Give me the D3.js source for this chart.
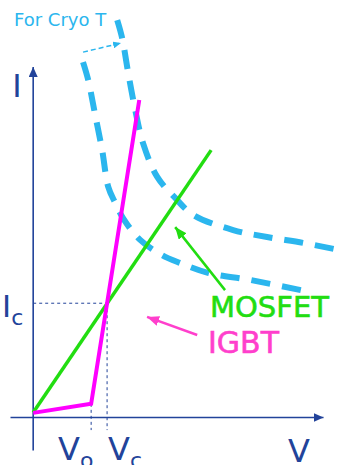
<!DOCTYPE html>
<html>
<head>
<meta charset="utf-8">
<script src="https://cdn.jsdelivr.net/npm/d3@7/dist/d3.min.js"></script>
<style>
  html, body { margin: 0; padding: 0; background: #fff; }
  svg { display: block; }
  text { font-family: "DejaVu Sans", Verdana, sans-serif; }
</style>
</head>
<body>
<svg id="chart" width="343" height="465"></svg>
<script>
// Axis extents (V horizontal, I vertical), in arbitrary units
const vExtent = [-0.8, 10];
const iExtent = [-1.15, 12];

// Operating point and IGBT knee voltage
const Vc = 2.55;
const Ic = 3.9;
const V0 = 2.0;

// MOSFET: linear (resistive) characteristic
const mosfetV = [0, 6.14];
const mosfetI = [0.15, 9.15];

// IGBT: small rise up to the knee, then steep
const igbtV = [0, 2.0, 3.66];
const igbtI = [0.14, 0.45, 10.87];

// Cryogenic limit curves (dashed)
const cryoOuterV = [2.90, 3.07, 3.28, 3.52, 3.79, 4.28, 4.90, 5.52, 6.90, 8.07, 9.31, 10.52];
const cryoOuterI = [13.61, 12.99, 11.79, 10.53, 9.39, 8.23, 7.51, 6.93, 6.41, 6.17, 5.97, 5.73];
const cryoInnerV = [1.72, 1.90, 2.14, 2.38, 2.59, 2.83, 3.10, 3.69, 4.45, 5.07, 6.03, 7.48, 9.38];
const cryoInnerI = [12.17, 11.55, 10.35, 9.15, 7.89, 7.34, 6.82, 6.07, 5.55, 5.28, 4.94, 4.70, 4.32];

// Annotation arrows: [fromV, fromI, toV, toI]
const shiftArrow = [1.72, 12.51, 3.03, 12.82];
const mosfetArrow = [6.62, 4.35, 4.90, 6.51];
const igbtArrow = [5.66, 2.81, 3.93, 3.43];

const W = 343, H = 465;
const navy = "#22439a";
const cyan = "#2bb6ee";
const green = "#22dd11";
const magenta = "#ff00ff";
const pink = "#ff3fcc";

const svg = d3.select("#chart");
const x = d3.scaleLinear().domain(vExtent).range([10, 323]);
const y = d3.scaleLinear().domain(iExtent).range([450.5, 67]);

const defs = svg.append("defs");
function marker(id, color, w, h) {
  defs.append("marker")
    .attr("id", id)
    .attr("viewBox", `0 0 ${w} ${h}`)
    .attr("refX", w).attr("refY", h / 2)
    .attr("markerWidth", w).attr("markerHeight", h)
    .attr("markerUnits", "userSpaceOnUse")
    .attr("orient", "auto")
    .append("path")
    .attr("d", `M0,0L${w},${h / 2}L0,${h}Z`)
    .attr("fill", color);
}
marker("arrNavy", navy, 10, 9);
marker("arrCyan", cyan, 8, 7);
marker("arrGreen", green, 12, 10);
marker("arrPink", pink, 12, 10);

// Axes through the origin, no ticks
const xAxis = svg.append("g")
  .attr("transform", `translate(0,${y(0)})`)
  .call(d3.axisBottom(x).tickValues([]).tickSizeOuter(0));
xAxis.select(".domain")
  .attr("stroke", navy).attr("stroke-width", 1.6)
  .attr("marker-end", "url(#arrNavy)");

const yAxis = svg.append("g")
  .attr("transform", `translate(${x(0)},0)`)
  .call(d3.axisLeft(y).tickValues([]).tickSizeOuter(0));
yAxis.select(".domain")
  .attr("stroke", navy).attr("stroke-width", 1.6)
  .attr("d", `M0,${y(iExtent[0])}V${y(iExtent[1])}`)
  .attr("marker-end", "url(#arrNavy)");

const line = d3.line().x(d => x(d[0])).y(d => y(d[1]));
const smooth = d3.line().x(d => x(d[0])).y(d => y(d[1])).curve(d3.curveCatmullRom.alpha(0.5));

// Guide lines to the operating point
const guides = [
  [[0, Ic], [Vc, Ic]],
  [[Vc, Ic], [Vc, -0.45]],
  [[V0, igbtI[1]], [V0, -0.45]]
];
svg.append("g").selectAll("path").data(guides).join("path")
  .attr("d", line)
  .attr("fill", "none")
  .attr("stroke", navy)
  .attr("stroke-width", 1)
  .attr("stroke-dasharray", "3,3");

// Cryogenic dashed curves
const cryo = [
  d3.zip(cryoOuterV, cryoOuterI),
  d3.zip(cryoInnerV, cryoInnerI)
];
svg.append("g").selectAll("path").data(cryo).join("path")
  .attr("d", smooth)
  .attr("fill", "none")
  .attr("stroke", cyan)
  .attr("stroke-width", 6)
  .attr("stroke-dasharray", "19,12");

// Device characteristics
svg.append("path")
  .attr("d", line(d3.zip(mosfetV, mosfetI)))
  .attr("fill", "none").attr("stroke", green).attr("stroke-width", 3.5);
svg.append("path")
  .attr("d", line(d3.zip(igbtV, igbtI)))
  .attr("fill", "none").attr("stroke", magenta).attr("stroke-width", 4)
  .attr("stroke-linejoin", "miter");

// Annotation arrows
function arrow(a, color, width, mk, dash) {
  const p = svg.append("line")
    .attr("x1", x(a[0])).attr("y1", y(a[1]))
    .attr("x2", x(a[2])).attr("y2", y(a[3]))
    .attr("stroke", color).attr("stroke-width", width)
    .attr("marker-end", `url(#${mk})`);
  if (dash) p.attr("stroke-dasharray", dash);
}
arrow(shiftArrow, cyan, 1.5, "arrCyan", "5,3");
arrow(mosfetArrow, green, 2.5, "arrGreen");
arrow(igbtArrow, pink, 2.5, "arrPink");

// Text
svg.append("text").attr("x", 14).attr("y", 26)
  .attr("fill", cyan).attr("font-size", 18).text("For Cryo T");

svg.append("text").attr("x", 17).attr("y", 97).attr("text-anchor", "middle")
  .attr("fill", navy).attr("font-size", 32).text("I");

svg.append("text").attr("x", 299).attr("y", 462).attr("text-anchor", "middle")
  .attr("fill", navy).attr("font-size", 32).text("V");

const ic = svg.append("text").attr("x", 2).attr("y", 317).attr("fill", navy);
ic.append("tspan").attr("font-size", 31).text("I");
ic.append("tspan").attr("font-size", 22).attr("dy", 8).text("c");

const v0 = svg.append("text").attr("x", 58).attr("y", 460).attr("fill", navy);
v0.append("tspan").attr("font-size", 32).text("V");
v0.append("tspan").attr("font-size", 22).attr("dy", 8).text("o");

const vc = svg.append("text").attr("x", 108).attr("y", 460).attr("fill", navy);
vc.append("tspan").attr("font-size", 32).text("V");
vc.append("tspan").attr("font-size", 22).attr("dy", 8).text("c");

svg.append("text").attr("x", 210).attr("y", 317)
  .attr("fill", green).attr("font-size", 29)
  .attr("stroke", green).attr("stroke-width", 0.6).text("MOSFET");

svg.append("text").attr("x", 208).attr("y", 353)
  .attr("fill", pink).attr("font-size", 30)
  .attr("stroke", pink).attr("stroke-width", 0.6).text("IGBT");
</script>
</body>
</html>
